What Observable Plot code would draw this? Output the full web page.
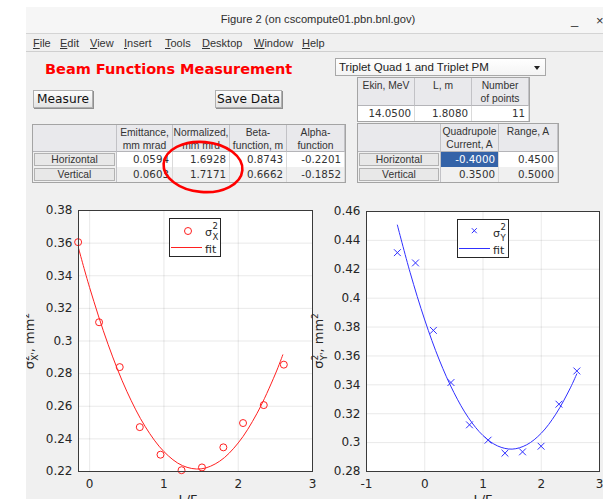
<!DOCTYPE html>
<html>
<head>
<meta charset="utf-8">
<script src="https://cdn.jsdelivr.net/npm/d3@7"></script>
<script src="https://cdn.jsdelivr.net/npm/@observablehq/plot@0.6"></script>
<style>
  html, body { margin: 0; padding: 0; }
  body { width: 603px; height: 499px; overflow: hidden; background: #fff; position: relative;
         font-family: "DejaVu Sans", sans-serif; }
  #win { position: absolute; left: 0; top: 0; width: 603px; height: 499px; background: #f0f0f0;
         clip-path: inset(7px 0 0 26px); overflow: hidden; }
  .abs { position: absolute; box-sizing: border-box; }
  #titlebar { left: 0; top: 7px; width: 603px; height: 27px; background: #f6f6f6; border-bottom: 1px solid #d4d4d4; }
  #title { left: 25px; width: 586px; top: 13px; text-align: center; font: 11.2px "Liberation Sans", sans-serif; color: #2e2e2e; }
  .winbtn { font: 13px "Liberation Sans", sans-serif; color: #333; }
  #menubar { left: 0; top: 34px; width: 603px; height: 18px; background: #f0f0f0; border-bottom: 1px solid #cfcfcf; }
  .menu { top: 37px; font: 11px "Liberation Sans", sans-serif; color: #333; }
  .menu u { text-decoration: underline; text-underline-offset: 1px; }
  #heading { left: 45px; top: 61px; font: bold 14.5px "DejaVu Sans", sans-serif; color: #ff0000; white-space: nowrap; }
  .button { height: 18px; top: 90px; background: linear-gradient(#fdfdfd, #e4e4e4); border: 1px solid #b0b0b0;
            box-shadow: 1px 1px 0 #8f8f8f; text-align: center; font: 12.2px "DejaVu Sans", sans-serif;
            line-height: 16px; color: #111; }
  #dropdown { left: 335px; top: 58px; width: 211px; height: 18px; background: linear-gradient(#ffffff, #f4f4f4);
              border: 1px solid #a8a8a8; font: 11.5px "Liberation Sans", sans-serif; line-height: 16px;
              padding-left: 3px; color: #222; }
  #arrow { right: 5px; top: 7px; width: 0; height: 0; border-left: 3px solid transparent;
           border-right: 3px solid transparent; border-top: 4px solid #222; }
  .tframe { border: 1px solid #a4a4a4; }
  .hdr { background: #e9e9ec; border-right: 1px solid #c2c2c6; border-bottom: 1px solid #b4b4b8;
         text-align: center; font: 10.3px "Liberation Sans", sans-serif; line-height: 12.5px; color: #333;
         padding-top: 2px; white-space: nowrap; overflow: hidden; }
  .rowhdr { background: #f0f0f0; border-right: 1px solid #c2c2c6; padding: 1px; }
  .rowhdr div { width: 100%; height: 100%; box-sizing: border-box; background: #e8e8e8; border: 1px solid #b2b2b2;
                text-align: center; font: 10.3px "Liberation Sans", sans-serif; line-height: 11px; color: #333; }
  .val { border-right: 1px solid #dadada; text-align: right; padding-right: 3px;
         font: 10.3px "DejaVu Sans", sans-serif; line-height: 15px; color: #333; white-space: nowrap; }
  .odd { background: #ffffff; }
  .even { background: #f0f0f0; }
  .sel { background: #3463a8; color: #fff; }
  .chart { top: 195px; }
  #overlay { position: absolute; left: 0; top: 0; pointer-events: none; }
</style>
</head>
<body>
<div id="win">
  <div id="titlebar" class="abs"></div>
  <div id="title" class="abs">Figure 2 (on cscompute01.pbn.bnl.gov)</div>
  <div class="abs winbtn" style="left:571px;top:12px;">_</div>
  <div class="abs winbtn" style="left:596px;top:13px;">×</div>
  <div id="menubar" class="abs"></div>
  <div id="menus"></div>
  <div id="heading" class="abs">Beam Functions Measurement</div>
  <div class="abs button" style="left:33px;width:60px;">Measure</div>
  <div class="abs button" style="left:215px;width:67px;">Save Data</div>
  <div id="dropdown" class="abs">Triplet Quad 1 and Triplet PM<div id="arrow" class="abs"></div></div>
  <div id="tables"></div>
  <div id="chartX" class="abs chart" style="left:0px;"></div>
  <div id="chartY" class="abs chart" style="left:320px;"></div>
  <div id="legends"></div>
  <svg id="overlay" width="603" height="499"></svg>
</div>
<script>
// ---------------- measured beam sizes vs L/F ----------------
// horizontal plane
const lfX       = [-0.155, 0.127, 0.405, 0.675, 0.954, 1.237, 1.512, 1.800, 2.065, 2.344, 2.614];
const sigmaX2   = [0.3606, 0.3115, 0.2840, 0.2472, 0.2303, 0.2208, 0.2225, 0.2348, 0.2497, 0.2607, 0.2855];
const fitLfX    = [-0.15, 0, 0.25, 0.5, 0.75, 1, 1.25, 1.5, 1.75, 2, 2.25, 2.5, 2.6];
const fitSigmaX2 = [0.3570, 0.3327, 0.2977, 0.2692, 0.2474, 0.2322, 0.2236, 0.2216, 0.2263, 0.2375, 0.2554, 0.2798, 0.2915];
// vertical plane
const lfY       = [-0.470, -0.159, 0.148, 0.450, 0.768, 1.087, 1.377, 1.679, 1.997, 2.304, 2.611];
const sigmaY2   = [0.4315, 0.4244, 0.3777, 0.3416, 0.3123, 0.3017, 0.2927, 0.2936, 0.2975, 0.3266, 0.3496];
const fitLfY    = [-0.47, -0.25, 0, 0.25, 0.5, 0.75, 1, 1.25, 1.5, 1.75, 2, 2.25, 2.5, 2.61];
const fitSigmaY2 = [0.4506, 0.4176, 0.3849, 0.3572, 0.3347, 0.3172, 0.3049, 0.2977, 0.2955, 0.2985, 0.3065, 0.3197, 0.3379, 0.3476];

const xTicksX = [0, 1, 2, 3];
const yTicksX = [0.22, 0.24, 0.26, 0.28, 0.3, 0.32, 0.34, 0.36, 0.38];
const xTicksY = [-1, 0, 1, 2, 3];
const yTicksY = [0.28, 0.3, 0.32, 0.34, 0.36, 0.38, 0.4, 0.42, 0.44, 0.46];

// ---------------- GUI table contents ----------------
const menuItems  = ["File", "Edit", "View", "Insert", "Tools", "Desktop", "Window", "Help"];
const planes     = ["Horizontal", "Vertical"];
const beamHeaders = ["Emittance,<br>mm mrad", "Normalized,<br>mm mrd", "Beta-<br>function, m", "Alpha-<br>function"];
const emittance  = ["0.0594", "0.0603"];
const normalized = ["1.6928", "1.7171"];
const betaFn     = ["0.8743", "0.6662"];
const alphaFn    = ["-0.2201", "-0.1852"];
const setupHeaders = ["Ekin, MeV", "L, m", "Number<br>of points"];
const setupValues  = ["14.0500", "1.8080", "11"];
const quadHeaders  = ["Quadrupole<br>Current, A", "Range, A"];
const quadCurrent  = ["-0.4000", "0.3500"];
const quadRange    = ["0.4500", "0.5000"];

// ---------------- menu bar ----------------
const menuX = [33, 60, 90, 124, 165, 202, 254, 302];
const menus = document.getElementById("menus");
menuItems.forEach((m, i) => {
  const d = document.createElement("div");
  d.className = "abs menu";
  d.style.left = menuX[i] + "px";
  d.innerHTML = `<u>${m[0]}</u>${m.slice(1)}`;
  menus.appendChild(d);
});

// ---------------- tables ----------------
const tables = document.getElementById("tables");
function cell(x0, y0, x1, y1, cls, html) {
  const d = document.createElement("div");
  d.className = "abs " + cls;
  Object.assign(d.style, {left: x0 + "px", top: y0 + "px", width: (x1 - x0) + "px", height: (y1 - y0) + "px"});
  d.innerHTML = html;
  tables.appendChild(d);
  return d;
}
function table(cols, rows, headers, rowHeaders, columns, cellClass) {
  const hasRowHdr = rowHeaders !== null;
  if (hasRowHdr) cell(cols[0], rows[0], cols[1], rows[1], "hdr", "");
  const c0 = hasRowHdr ? 1 : 0;
  headers.forEach((h, j) => cell(cols[c0 + j], rows[0], cols[c0 + j + 1], rows[1], "hdr", h));
  for (let r = 0; r < rows.length - 2; r++) {
    if (hasRowHdr) cell(cols[0], rows[r + 1], cols[1], rows[r + 2], "rowhdr", `<div>${rowHeaders[r]}</div>`);
    columns.forEach((col, j) => {
      const cls = "val " + (cellClass ? cellClass(r, j) : (r % 2 ? "even" : "odd"));
      cell(cols[c0 + j], rows[r + 1], cols[c0 + j + 1], rows[r + 2], cls, col[r]);
    });
  }
  cell(cols[0] - 1, rows[0] - 1, cols[cols.length - 1] + 1, rows[rows.length - 1] + 1, "tframe", "");
}
table([33, 117, 173, 230, 287, 345], [125, 152, 167, 182], beamHeaders, planes,
      [emittance, normalized, betaFn, alphaFn]);
table([358, 415, 472, 529], [78, 106, 121], setupHeaders, null,
      setupValues.map(v => [v]));
table([358, 441, 499, 558], [124, 152, 167, 182], quadHeaders, planes,
      [quadCurrent, quadRange], (r, j) => (r === 0 && j === 0 ? "sel" : (r % 2 ? "even" : "odd")));

// ---------------- charts ----------------
function beamPlot({px, py, fx, fy, xDomain, yDomain, xTicks, yTicks, color, symbol, width, marginLeft, marginRight, marginTop}) {
  const pts = px.map((x, i) => ({x, y: py[i]}));
  const fit = fx.map((x, i) => ({x, y: fy[i]}));
  const grid = {stroke: "#262626", strokeOpacity: 0.1};
  return Plot.plot({
    width, height: 304, marginLeft, marginRight, marginTop, marginBottom: 28,
    style: {background: "transparent", fontFamily: "DejaVu Sans", fontSize: "12px", color: "#262626", overflow: "visible"},
    x: {domain: xDomain},
    y: {domain: yDomain},
    marks: [
      Plot.frame({fill: "#ffffff", stroke: "none"}),
      Plot.gridX(xTicks, grid),
      Plot.gridY(yTicks, grid),
      Plot.axisX(xTicks, {tickSize: 0, tickPadding: 8, tickFormat: String, label: null}),
      Plot.axisY(yTicks, {tickSize: 0, tickPadding: 6, tickFormat: String, label: null}),
      Plot.line(fit, {x: "x", y: "y", stroke: color, strokeWidth: 1, curve: "catmull-rom"}),
      Plot.dot(pts, {x: "x", y: "y", r: symbol === "circle" ? 3.5 : 3.2, symbol, stroke: color, strokeWidth: 1}),
      Plot.frame({stroke: "#3a3a3a"})
    ]
  });
}

document.getElementById("chartX").appendChild(beamPlot({
  px: lfX, py: sigmaX2, fx: fitLfX, fy: fitSigmaX2,
  xDomain: [-0.15, 3], yDomain: [0.22, 0.38], xTicks: xTicksX, yTicks: yTicksX,
  color: "#ff2020", symbol: "circle", width: 320, marginLeft: 78, marginRight: 8, marginTop: 15
}));
document.getElementById("chartY").appendChild(beamPlot({
  px: lfY, py: sigmaY2, fx: fitLfY, fy: fitSigmaY2,
  xDomain: [-1, 3], yDomain: [0.28, 0.46], xTicks: xTicksY, yTicks: yTicksY,
  color: "#3030ff", symbol: "times", width: 283, marginLeft: 46, marginRight: 4, marginTop: 16
}));

// ---------------- legends ----------------
const legends = document.getElementById("legends");
function legend(left, top, color, glyph, plane) {
  const wrap = document.createElement("div");
  wrap.className = "abs";
  Object.assign(wrap.style, {left: left + "px", top: top + "px", width: "52px", height: "39px"});
  wrap.innerHTML = `
    <svg width="52" height="39" style="display:block" font-family="DejaVu Sans" fill="#262626">
      <rect x="0.5" y="0.5" width="51" height="38" fill="#fff" stroke="#262626"/>
      ${glyph === "circle"
        ? `<circle cx="19" cy="13" r="3.5" fill="none" stroke="${color}"/>`
        : `<path d="M14.8,9.2L19.8,14.2M19.8,9.2L14.8,14.2" stroke="${color}"/>`}
      <text x="36" y="17.5" font-size="11">σ</text>
      <text x="43.5" y="11" font-size="8.5">2</text>
      <text x="43.5" y="22" font-size="8.5">${plane}</text>
      <line x1="2" x2="33" y1="29.5" y2="29.5" stroke="${color}"/>
      <text x="36" y="34.5" font-size="11">fit</text>
    </svg>`;
  legends.appendChild(wrap);
}
legend(169, 218, "#ff2020", "circle", "X");
legend(457, 219, "#3030ff", "times", "Y");

// ---------------- axis titles and annotation ----------------
const overlay = d3.select("#overlay");
function yTitle(x, y, plane) {
  const t = overlay.append("text")
    .attr("transform", `translate(${x},${y}) rotate(-90)`)
    .attr("text-anchor", "middle")
    .attr("font-family", "DejaVu Sans").attr("font-size", 13).attr("fill", "#262626");
  t.append("tspan").text("σ");
  t.append("tspan").attr("font-size", 9).attr("dy", -5).text("2");
  t.append("tspan").attr("font-size", 9).attr("dx", -5.7).attr("dy", 9).text(plane + "'");
  t.append("tspan").attr("dy", -4).text(", mm");
  t.append("tspan").attr("font-size", 9).attr("dy", -5).text("2");
}
yTitle(33.5, 341, "X");
yTitle(323, 341, "Y");
overlay.selectAll("text.xt").data([188, 483]).join("text")
  .attr("x", d => d).attr("y", 504).attr("text-anchor", "middle")
  .attr("font-family", "DejaVu Sans").attr("font-size", 13).attr("fill", "#262626").text("L/F");
overlay.append("ellipse")
  .attr("cx", 203).attr("cy", 167).attr("rx", 39.5).attr("ry", 25)
  .attr("transform", "rotate(5 203 167)")
  .attr("fill", "none").attr("stroke", "#ff0000").attr("stroke-width", 2.6);
</script>
</body>
</html>
